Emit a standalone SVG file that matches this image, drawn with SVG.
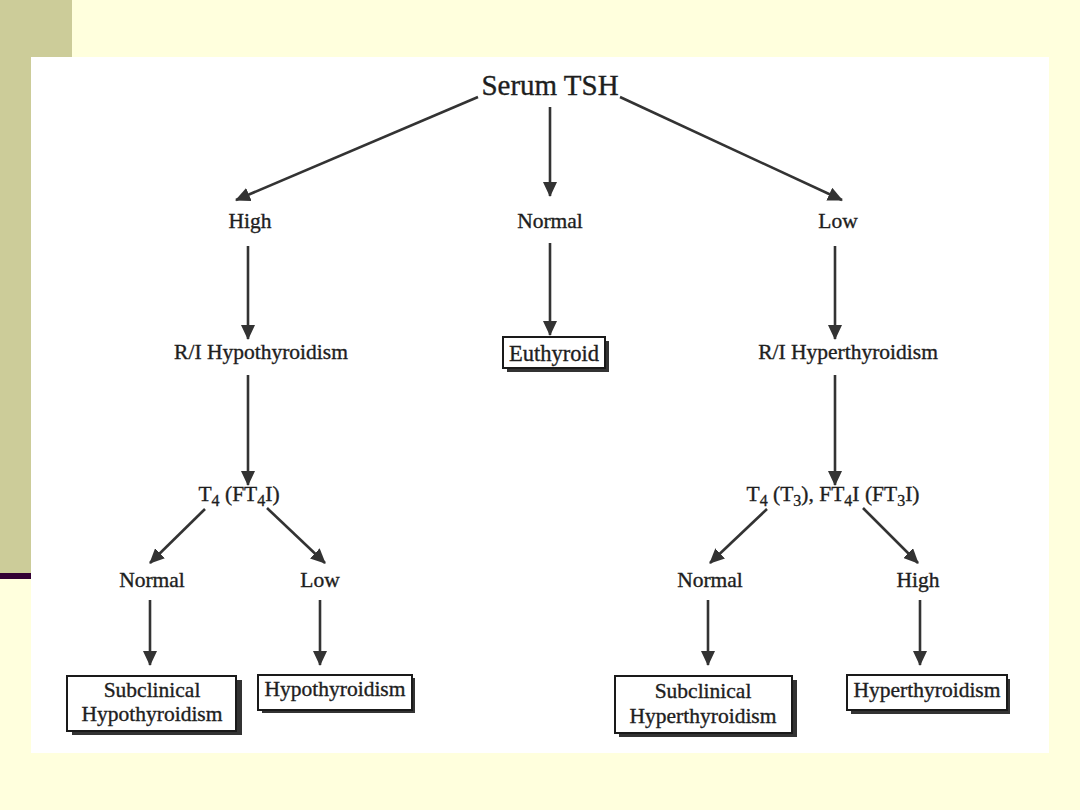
<svg xmlns="http://www.w3.org/2000/svg" width="1080" height="810" viewBox="0 0 1080 810">
<defs>
<marker id="ah" markerUnits="userSpaceOnUse" markerWidth="16" markerHeight="14" refX="14" refY="7" orient="auto">
<path d="M0,0 L15,7 L0,14 Z" fill="#333"/>
</marker>
<style>
.t{font-family:"Liberation Serif","Times New Roman",serif;fill:#1e1e1e;stroke:#1e1e1e;stroke-width:0.35;text-anchor:middle;font-size:21.5px}
.big{font-size:29px}
.sub{font-size:16px}
.c line{stroke:#333;stroke-width:2.6;marker-end:url(#ah)}
.box{fill:#fff;stroke:#1a1a1a;stroke-width:2}
.sh{fill:#333}
</style>
</defs>
<rect width="1080" height="810" fill="#ffffdd"/>
<rect x="0" y="0" width="72" height="573" fill="#cccc99"/>
<rect x="0" y="573" width="72" height="6" fill="#330033"/>
<rect x="31" y="57" width="1018" height="696" fill="#fff"/>

<g class="c" id="connectors">
<line x1="478" y1="97" x2="236" y2="200"/>
<line x1="550" y1="107" x2="550" y2="196"/>
<line x1="620" y1="97" x2="842" y2="200"/>
<line x1="248" y1="246" x2="248" y2="339"/>
<line x1="550" y1="243" x2="550" y2="335"/>
<line x1="835" y1="246" x2="835" y2="339"/>
<line x1="248" y1="375" x2="248" y2="485"/>
<line x1="835" y1="375" x2="835" y2="485"/>
<line x1="205" y1="509" x2="150" y2="563"/>
<line x1="267" y1="508" x2="325" y2="563"/>
<line x1="767" y1="509" x2="710" y2="563"/>
<line x1="863" y1="508" x2="918" y2="563"/>
<line x1="150" y1="600" x2="150" y2="665"/>
<line x1="320" y1="600" x2="320" y2="665"/>
<line x1="708" y1="600" x2="708" y2="665"/>
<line x1="920" y1="600" x2="920" y2="665"/>
</g>

<g id="serum-tsh"><text class="t big" x="550" y="95">Serum TSH</text></g>
<g id="high"><text class="t" x="250" y="228">High</text></g>
<g id="normal"><text class="t" x="550" y="228">Normal</text></g>
<g id="low"><text class="t" x="838" y="228">Low</text></g>
<g id="ri-hypo"><text class="t" x="261" y="359">R/I Hypothyroidism</text></g>
<g id="euthyroid">
<rect class="sh" x="507" y="341" width="102" height="31"/>
<rect class="box" x="503" y="337" width="102" height="31"/>
<text class="t" x="554" y="361" style="font-size:22.5px">Euthyroid</text>
</g>
<g id="ri-hyper"><text class="t" x="848" y="359">R/I Hyperthyroidism</text></g>
<g id="t4-left"><text class="t" x="239" y="501">T<tspan class="sub" dy="5">4</tspan><tspan dy="-5"> (FT</tspan><tspan class="sub" dy="5">4</tspan><tspan dy="-5">I)</tspan></text></g>
<g id="t4-right"><text class="t" x="833" y="501">T<tspan class="sub" dy="5">4</tspan><tspan dy="-5"> (T</tspan><tspan class="sub" dy="5">3</tspan><tspan dy="-5">), FT</tspan><tspan class="sub" dy="5">4</tspan><tspan dy="-5">I (FT</tspan><tspan class="sub" dy="5">3</tspan><tspan dy="-5">I)</tspan></text></g>
<g id="normal-left"><text class="t" x="152" y="587">Normal</text></g>
<g id="low-left"><text class="t" x="320" y="587">Low</text></g>
<g id="normal-right"><text class="t" x="710" y="587">Normal</text></g>
<g id="high-right"><text class="t" x="918" y="587">High</text></g>
<g id="subclinical-hypo">
<rect class="sh" x="72" y="680" width="170" height="55"/>
<rect class="box" x="67" y="676" width="169" height="55"/>
<text class="t" x="152" y="697">Subclinical</text>
<text class="t" x="152" y="721">Hypothyroidism</text>
</g>
<g id="hypothyroidism">
<rect class="sh" x="262" y="678" width="153" height="35"/>
<rect class="box" x="258" y="675" width="154" height="35"/>
<text class="t" x="335" y="696">Hypothyroidism</text>
</g>
<g id="subclinical-hyper">
<rect class="sh" x="619" y="680" width="178" height="57"/>
<rect class="box" x="615" y="676" width="177" height="57"/>
<text class="t" x="703" y="698">Subclinical</text>
<text class="t" x="703" y="723">Hyperthyroidism</text>
</g>
<g id="hyperthyroidism">
<rect class="sh" x="851" y="679" width="159" height="35"/>
<rect class="box" x="847" y="675" width="160" height="35"/>
<text class="t" x="927" y="697">Hyperthyroidism</text>
</g>
</svg>
